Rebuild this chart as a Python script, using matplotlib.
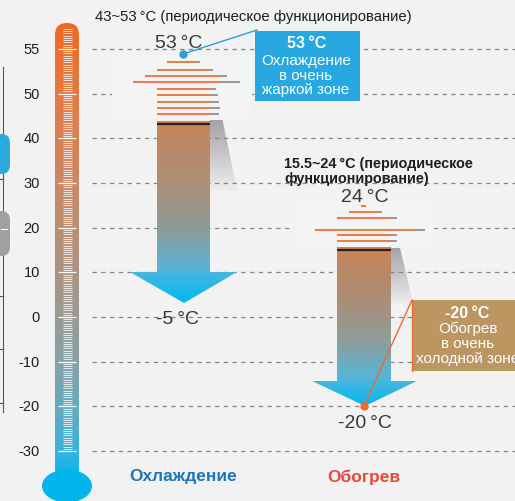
import numpy as np
import matplotlib.pyplot as plt
from matplotlib.colors import LinearSegmentedColormap, to_rgb
from matplotlib.patches import Polygon, Rectangle, FancyBboxPatch, Ellipse
from matplotlib.transforms import Affine2D

plt.rcParams['font.family'] = ['Liberation Sans', 'DejaVu Sans']

# деления шкалы термометра
scale_ticks = [55, 50, 40, 30, 20, 10, 0, -10, -20, -30]

# охлаждение: от -5 до 53 °C, периодически 43~53 °C
cool_min, cool_max = -5, 53
cool_period = (43, 53)
cool_arrow = (43.9, 10.0, 3.1)          # верх тела, начало наконечника, острие (как нарисовано)
cool_stripes = [54.33, 53.51, 52.70, 51.98, 51.31, 50.52, 49.70, 48.25, 46.86, 45.45]

# обогрев: от -20 до 24 °C, периодически 15.5~24 °C
heat_min, heat_max = -20, 24
heat_period = (15.5, 24)
heat_arrow = (15.6, -14.33, -20.0)
heat_stripes = [24.92, 23.51, 22.12, 19.55, 18.27, 17.02]

# x-границы полос: начало, конец оранжевой части, конец серой
cool_stripe_x = [(180, 186, 186), (167, 196, 200), (157, 210, 213), (145, 220, 227),
                 (133, 220, 240), (157, 210, 216), (157, 210, 218), (157, 210, 219),
                 (157, 210, 220), (157, 210, 219)]
heat_stripe_x = [(361, 366, 366), (349, 378, 382), (337, 391, 397), (315, 413, 425),
                 (337, 391, 397), (337, 391, 397)]

bg = '#f2f2f2'


def fwd(t):
    t = np.asarray(t, dtype=float)
    return np.where(t > 50, 50 + (t - 50) * 2, t)


def inv(f):
    f = np.asarray(f, dtype=float)
    return np.where(f > 50, 50 + (f - 50) / 2, f)


fig = plt.figure(figsize=(5.15, 5.02), dpi=100)
fig.patch.set_facecolor(bg)
ax = fig.add_axes([0, 0, 1, 1])
ax.set_facecolor(bg)
ax.set_yscale('function', functions=(fwd, inv))

# пиксельная система для оформления (y вниз)
px_tr = Affine2D().scale(0.01, -0.01).translate(0, 5.02) + fig.dpi_scale_trans


def ptext(x, y, s, **kw):
    ax.text(x, y, s, transform=px_tr, **kw)


# пунктирные линии шкалы
ax.hlines(scale_ticks, 92, 515, colors='#858585', lw=0.9, linestyles=(0, (3.5, 3.5)), zorder=2)

# светлые подложки под полосами
ax.add_patch(Rectangle((112, 58), 140, 61, fc='#f4f4f4', ec='none', transform=px_tr, zorder=2.5))
ax.add_patch(Rectangle((294, 203), 140, 44, fc='#f4f4f4', ec='none', transform=px_tr, zorder=2.5))


# тени справа от стрелок
def shadow(verts):
    shape = Polygon(verts, closed=True, transform=px_tr)
    rgba = np.zeros((100, 1, 4))
    rgba[..., :3] = to_rgb('#8e8e96')
    rgba[:, 0, 3] = np.linspace(0.8, 0, 100)
    xs = [v[0] for v in verts]
    ys = [v[1] for v in verts]
    im = ax.imshow(rgba, extent=(min(xs), max(xs), max(ys), min(ys)), transform=px_tr,
                   aspect='auto', interpolation='bilinear', zorder=1.5)
    im.set_clip_path(shape)


shadow([(210, 121), (222.5, 121), (238, 195), (210, 195)])
shadow([(391, 249), (400, 249), (414, 308), (391, 308)])


# стрелки с градиентом
def gradient_arrow(xl, xr, hl, hr, top, neck, tip, cmap):
    xc = (hl + hr) / 2
    shape = Polygon([(xl, top), (xr, top), (xr, neck), (hr, neck), (xc, tip), (hl, neck), (xl, neck)],
                    closed=True, transform=ax.transData)
    ys = inv(np.linspace(fwd(top), fwd(tip), 300))
    c = np.linspace(0, 1, 299)[:, None]
    mesh = ax.pcolormesh([hl, hr], ys, c, cmap=cmap, shading='flat', zorder=4, antialiased=False)
    mesh.set_clip_path(shape)


cool_cmap = LinearSegmentedColormap.from_list('cool', [
    (0.0, '#c8845a'), (0.33, '#ab8f78'), (0.58, '#8f9a95'), (0.78, '#62afcf'),
    (0.83, '#55b2d6'), (0.831, '#48b4de'), (1.0, '#00b9ef')])
heat_cmap = LinearSegmentedColormap.from_list('heat', [
    (0.0, '#c8845a'), (0.32, '#ab8d75'), (0.58, '#8f9c98'), (0.8, '#5ab3d5'),
    (0.84, '#52b3d8'), (0.841, '#46b5de'), (1.0, '#00b8ee')])

gradient_arrow(157, 210, 130, 237, *cool_arrow, cool_cmap)
gradient_arrow(337, 391, 312, 417, *heat_arrow, heat_cmap)

# тёмная кромка сверху
ax.hlines(43.2, 157, 210, colors='#2b2220', lw=1.6, zorder=5)
ax.hlines(15.07, 337, 391, colors='#2b2220', lw=1.6, zorder=5)

# полосы над стрелками
for t, (x0, x1, x2) in zip(cool_stripes + heat_stripes, cool_stripe_x + heat_stripe_x):
    ax.hlines(t, x1, x2, colors='#8f8f96', lw=1.3, zorder=4)
    ax.hlines(t, x0, x1, colors='#e8713a', lw=1.3, zorder=4.5)

# термометр
therm_cmap = LinearSegmentedColormap.from_list('therm', [
    (0.0, '#f4661f'), (0.17, '#e57a45'), (0.356, '#cd8763'), (0.46, '#bb8e73'),
    (0.657, '#9a9b92'), (0.756, '#86a2a6'), (0.859, '#65abbf'), (0.96, '#37b3de'),
    (1.0, '#14b6e8')])
tube = FancyBboxPatch((55, 24), 24, 460, boxstyle='round,pad=0,rounding_size=12',
                      transform=px_tr, fc='none', ec='none')
im = ax.imshow(np.linspace(0, 1, 256)[:, None], cmap=therm_cmap, extent=(55, 79, 472, 24),
               transform=px_tr, aspect='auto', interpolation='bicubic', zorder=3)
im.set_clip_path(tube)
ax.add_patch(Ellipse((67, 487), 50, 33, fc='#00b5ec', ec='none', transform=px_tr, zorder=3))

minor = inv(np.arange(-30, 64.6, 0.5))
minor = [m for m in minor if m not in scale_ticks]
ax.hlines(minor, 63, 72, colors='white', lw=0.7, alpha=0.8, zorder=3.5)
ax.hlines(scale_ticks, 58, 76, colors='white', lw=0.9, zorder=3.5)

for t in scale_ticks:
    ax.text(40, t, str(t), ha='right', va='center', fontsize=10.5, color='#1e1e1e')

# обрезанные элементы у левого края
ax.plot([3, 3], [68, 413], color='#555555', lw=0.8, transform=px_tr, zorder=2)
for y in [180, 297, 350, 404]:
    ax.plot([0, 3], [y, y], color='#555555', lw=0.8, transform=px_tr, zorder=2)
ax.add_patch(FancyBboxPatch((-20, 135), 30, 40, boxstyle='round,pad=0,rounding_size=9',
                            fc='#29a9e0', ec='none', transform=px_tr, zorder=3))
ax.add_patch(FancyBboxPatch((-20, 212), 30, 45, boxstyle='round,pad=0,rounding_size=9',
                            fc='#a0a0a0', ec='none', transform=px_tr, zorder=3))
ax.plot([1, 7], [230, 230], color='white', lw=0.8, transform=px_tr, zorder=3.5)

# подписи температур у стрелок
ptext(95, 21, f'{cool_period[0]}~{cool_period[1]}\u2009°C (периодическое функционирование)',
      fontsize=10.7, color='#1e1e1e', va='baseline')
ptext(179, 48, f'{cool_max}\u2009°C', fontsize=14, color='#383838', ha='center', va='baseline', zorder=6)
ptext(177, 324, f'{cool_min}\u2009°C', fontsize=14, color='#383838', ha='center', va='baseline', zorder=6)
ptext(284, 168, f'{heat_period[0]}~{heat_period[1]}\u2009°C (периодическое', fontsize=10.4,
      fontweight='bold', color='#1e1e1e', va='baseline', zorder=6)
ptext(284, 183, 'функционирование)', fontsize=10.4, fontweight='bold', color='#1e1e1e',
      va='baseline', zorder=6)
ptext(364.5, 201.5, f'{heat_max}\u2009°C', fontsize=14, color='#383838', ha='center', va='baseline', zorder=6)
ptext(365, 427.5, f'{heat_min}\u2009°C', fontsize=14, color='#383838', ha='center', va='baseline', zorder=6)

# выноска охлаждения
ax.plot([183, 257], [55, 31], color='#2a9fd8', lw=1, transform=px_tr, zorder=6)
ax.plot([183], [55], 'o', ms=5, color='#2a9fd8', transform=px_tr, zorder=6)
ax.add_patch(Rectangle((255, 32), 105, 70, fc='#27a8e0', ec='none', transform=px_tr, zorder=6))
ptext(307, 48, f'{cool_max}\u2009°C', fontsize=11.5, fontweight='bold', color='white',
      ha='center', va='baseline', zorder=7)
for y, s in [(65, 'Охлаждение'), (80, 'в очень'), (94, 'жаркой зоне')]:
    ptext(306, y, s, fontsize=11, color='white', ha='center', va='baseline', zorder=7)

# выноска обогрева (в оригинале обрезана правым краем)
ax.add_patch(Rectangle((412, 301), 110, 71, fc='#bb9661', ec='none', transform=px_tr, zorder=6))
ax.plot([412, 412], [301, 372], color='#f06a2c', lw=1, transform=px_tr, zorder=6.5)
ax.plot([412, 364], [301, 407], color='#f06a2c', lw=1, transform=px_tr, zorder=6.5)
ax.plot([364], [heat_min], 'o', ms=5, color='#f06a2c', zorder=6.5)
ptext(467, 318, f'{heat_min}\u2009°C', fontsize=11.5, fontweight='bold', color='white',
      ha='center', va='baseline', zorder=7)
for y, s in [(333.5, 'Обогрев'), (347.5, 'в очень'), (363, 'холодной зоне')]:
    ptext(467.5, y, s, fontsize=11, color='white', ha='center', va='baseline', zorder=7)

# подписи режимов
ptext(183, 481.5, 'Охлаждение', fontsize=12.5, fontweight='bold', color='#1b75bb',
      ha='center', va='baseline')
ptext(364, 482, 'Обогрев', fontsize=12.5, fontweight='bold', color='#e8493a',
      ha='center', va='baseline')

ax.set_xlim(0, 515)
ax.set_ylim(-41.19, 60.6)
ax.axis('off')
fig.savefig('out.png', dpi=100, facecolor=bg)
